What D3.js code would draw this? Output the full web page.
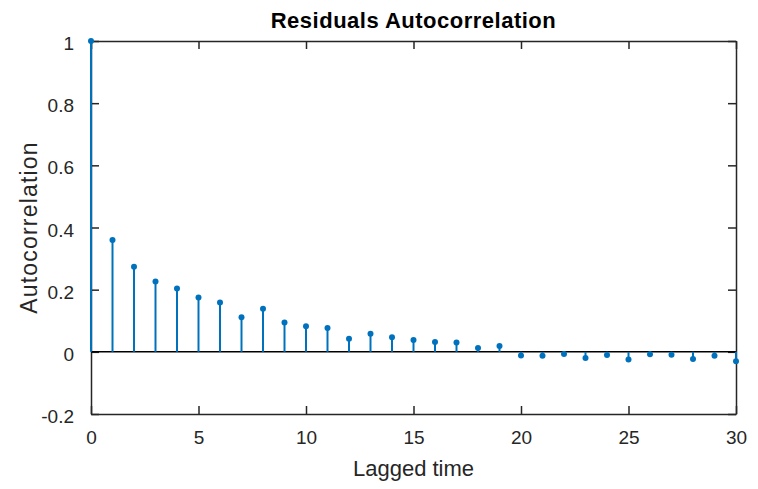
<!DOCTYPE html>
<html>
<head>
<meta charset="utf-8">
<script src="https://cdn.jsdelivr.net/npm/d3@7"></script>
<style>
  body { margin: 0; background: #fff; }
  text { font-family: "Liberation Sans", Arial, Helvetica, sans-serif; fill: #262626; }
</style>
</head>
<body>
<div id="plot"></div>
<script>
// Chart size and plot margins
var svgWidth = 758;
var svgHeight = 489;

var margin = {
  top: 41,
  right: 22,
  bottom: 75,
  left: 91
};

var width = svgWidth - margin.left - margin.right;
var height = svgHeight - margin.top - margin.bottom;

// Data
var lags = [0, 1, 2, 3, 4, 5, 6, 7, 8, 9, 10, 11, 12, 13, 14, 15, 16, 17, 18, 19, 20,
  21, 22, 23, 24, 25, 26, 27, 28, 29, 30];
var acf = [1, 0.360, 0.274, 0.226, 0.204, 0.175, 0.159, 0.111, 0.139, 0.094, 0.082,
  0.077, 0.042, 0.058, 0.047, 0.038, 0.032, 0.030, 0.012, 0.019, -0.012,
  -0.013, -0.007, -0.020, -0.010, -0.025, -0.008, -0.009, -0.023, -0.013, -0.030];
var xTicks = [0, 5, 10, 15, 20, 25, 30];
var yTicks = [-0.2, 0, 0.2, 0.4, 0.6, 0.8, 1];
var yTickLabels = ["-0.2", "0", "0.2", "0.4", "0.6", "0.8", "1"];

var svg = d3.select("#plot")
  .append("svg")
  .attr("width", svgWidth)
  .attr("height", svgHeight);

var chartGroup = svg.append("g")
  .attr("transform", `translate(${margin.left}, ${margin.top})`);

var xScale = d3.scaleLinear().domain([0, 30]).range([0, width]);
var yScale = d3.scaleLinear().domain([-0.2, 1]).range([height, 0]);

var axisColor = "#262626";
var tickLen = 8;

// Axes with inward ticks, box on all sides
var bottomAxis = d3.axisBottom(xScale).tickValues(xTicks).tickSizeInner(-tickLen).tickSizeOuter(0).tickPadding(17);
var topAxis = d3.axisTop(xScale).tickValues(xTicks).tickSizeInner(-tickLen).tickSizeOuter(0).tickFormat("");
var leftAxis = d3.axisLeft(yScale).tickValues(yTicks).tickSizeInner(-tickLen).tickSizeOuter(0).tickPadding(17)
  .tickFormat((d, i) => yTickLabels[i]);
var rightAxis = d3.axisRight(yScale).tickValues(yTicks).tickSizeInner(-tickLen).tickSizeOuter(0).tickFormat("");

function styleAxis(g) {
  g.selectAll("path, line").attr("stroke", axisColor).attr("stroke-width", 1.5);
  g.selectAll("text").attr("fill", axisColor).style("font-size", "19px")
    .style("font-family", "'Liberation Sans', Arial, sans-serif");
}

chartGroup.append("g").attr("transform", `translate(0, ${height})`).call(bottomAxis).call(styleAxis);
chartGroup.append("g").call(topAxis).call(styleAxis);
var yAxisG = chartGroup.append("g").call(leftAxis).call(styleAxis);
yAxisG.selectAll("text").attr("dy", "0.45em");
chartGroup.append("g").attr("transform", `translate(${width}, 0)`).call(rightAxis).call(styleAxis);

// Zero baseline
chartGroup.append("line")
  .attr("x1", xScale(0)).attr("x2", xScale(30))
  .attr("y1", yScale(0)).attr("y2", yScale(0))
  .attr("stroke", "#000").attr("stroke-width", 1.5);

var data = lags.map((l, i) => ({ lag: l, value: acf[i] }));
var blue = "#0072BD";

// Stems
chartGroup.selectAll(".stem")
  .data(data)
  .enter()
  .append("line")
  .attr("class", "stem")
  .attr("x1", d => xScale(d.lag))
  .attr("x2", d => xScale(d.lag))
  .attr("y1", yScale(0))
  .attr("y2", d => yScale(d.value))
  .attr("stroke", blue)
  .attr("stroke-width", 2);

// Markers
chartGroup.selectAll(".dot")
  .data(data)
  .enter()
  .append("circle")
  .attr("class", "dot")
  .attr("cx", d => xScale(d.lag))
  .attr("cy", d => yScale(d.value))
  .attr("r", 3)
  .attr("fill", blue);

// Title and axis labels
svg.append("text")
  .attr("x", margin.left + width / 2)
  .attr("y", 28)
  .attr("text-anchor", "middle")
  .style("font-size", "22px")
  .style("letter-spacing", "0.5px")
  .style("font-weight", "bold")
  .style("fill", "#000")
  .text("Residuals Autocorrelation");

svg.append("text")
  .attr("x", margin.left + width / 2)
  .attr("y", 476)
  .attr("text-anchor", "middle")
  .style("font-size", "22px")
  .text("Lagged time");

svg.append("text")
  .attr("transform", `translate(37, ${margin.top + height / 2}) rotate(-90)`)
  .attr("text-anchor", "middle")
  .style("font-size", "23px")
  .style("letter-spacing", "1.2px")
  .text("Autocorrelation");
</script>
</body>
</html>
